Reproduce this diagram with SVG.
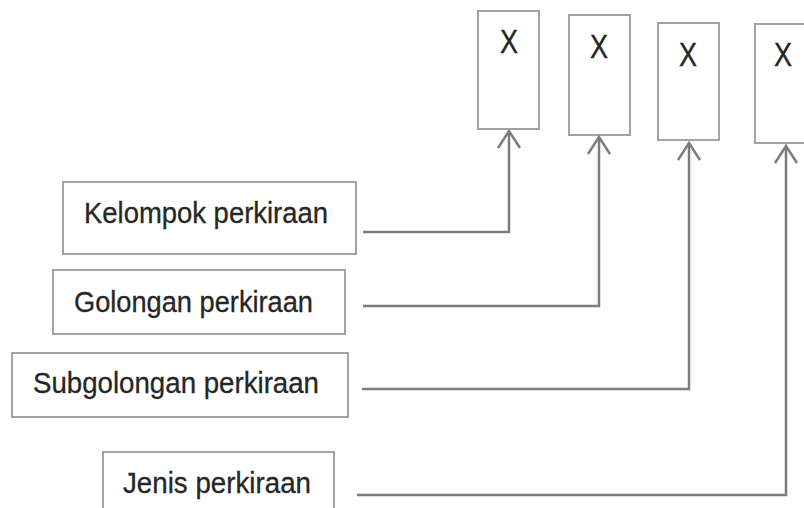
<svg xmlns="http://www.w3.org/2000/svg" width="804" height="508" viewBox="0 0 804 508">
  <style>
    .box { fill: #ffffff; stroke: #a3a3a3; stroke-width: 2; }
    .lbl { font-family: "Liberation Sans", Arial, sans-serif; font-size: 29px; fill: #262626; stroke: #262626; stroke-width: 0.3; }
    .x { font-family: "Liberation Sans", Arial, sans-serif; font-size: 33px; fill: #262626; stroke: #262626; stroke-width: 0.4; text-anchor: middle; }
    .conn { fill: none; stroke: #7c7c7c; stroke-width: 2.5; }
  </style>
  <defs>
    <marker id="arr" markerUnits="userSpaceOnUse" markerWidth="40" markerHeight="40" refX="0" refY="0" orient="auto" overflow="visible">
      <path d="M-17,-11 L0,0 L-17,11" fill="none" stroke="#7c7c7c" stroke-width="2.5"/>
    </marker>
  </defs>
  <rect width="804" height="508" fill="#ffffff"/>

  <g id="x1"><rect class="box" x="478" y="11" width="61" height="118"/><text class="x" x="509" y="53" textLength="18" lengthAdjust="spacingAndGlyphs">X</text></g>
  <g id="x2"><rect class="box" x="569" y="15" width="61" height="120"/><text class="x" x="599" y="58" textLength="18" lengthAdjust="spacingAndGlyphs">X</text></g>
  <g id="x3"><rect class="box" x="658" y="23" width="61" height="117"/><text class="x" x="688" y="66" textLength="18" lengthAdjust="spacingAndGlyphs">X</text></g>
  <g id="x4"><rect class="box" x="755" y="24" width="62" height="119"/><text class="x" x="783" y="66" textLength="18" lengthAdjust="spacingAndGlyphs">X</text></g>

  <g id="kelompok"><rect class="box" x="63" y="182" width="293" height="72"/><text class="lbl" x="84" y="223" textLength="244" lengthAdjust="spacingAndGlyphs">Kelompok perkiraan</text></g>
  <g id="golongan"><rect class="box" x="53" y="270" width="292" height="64"/><text class="lbl" x="74" y="312" textLength="239" lengthAdjust="spacingAndGlyphs">Golongan perkiraan</text></g>
  <g id="subgolongan"><rect class="box" x="12" y="353" width="336" height="64"/><text class="lbl" x="33" y="393" textLength="286" lengthAdjust="spacingAndGlyphs">Subgolongan perkiraan</text></g>
  <g id="jenis"><rect class="box" x="103" y="452" width="231" height="70"/><text class="lbl" x="123" y="493" textLength="188" lengthAdjust="spacingAndGlyphs">Jenis perkiraan</text></g>

  <g id="connectors">
    <path class="conn" d="M363,232 H509 V131" marker-end="url(#arr)"/>
    <path class="conn" d="M363,306 H599 V137" marker-end="url(#arr)"/>
    <path class="conn" d="M362,389 H689 V143" marker-end="url(#arr)"/>
    <path class="conn" d="M357,495 H786 V146" marker-end="url(#arr)"/>
  </g>
</svg>
